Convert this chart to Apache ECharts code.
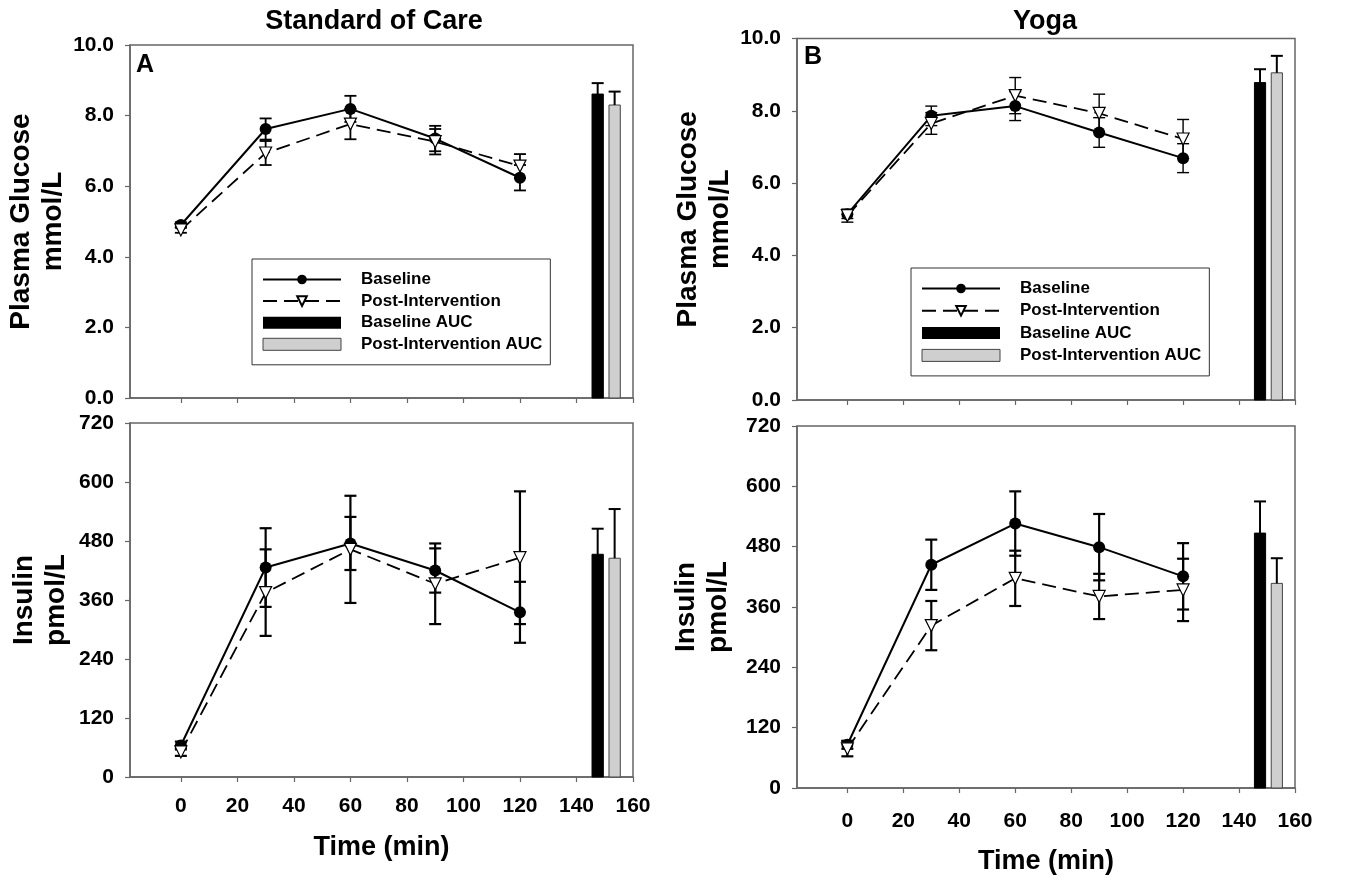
<!DOCTYPE html>
<html>
<head>
<meta charset="utf-8">
<title>Plasma glucose and insulin</title>
<script src="https://cdn.jsdelivr.net/npm/echarts@6/dist/echarts.min.js"></script>
<style>
  html, body { margin: 0; padding: 0; background: #fff; }
  #chart { width: 1353px; height: 882px; }
</style>
</head>
<body>
<div id="chart"></div>
<script>
// time points (min) and tick values
const times = [0, 30, 60, 90, 120]
const xTicks = [0, 20, 40, 60, 80, 100, 120, 140, 160]
const glucoseTicks = [0, 2, 4, 6, 8, 10]
const insulinTicks = [0, 120, 240, 360, 480, 600, 720]
const aucX = [147.5, 153.5]

// A: standard of care, glucose (mmol/L)
const socGlucoseBase = [4.90, 7.62, 8.19, 7.35, 6.24]
const socGlucoseBaseErr = [0.08, 0.30, 0.37, 0.36, 0.36]
const socGlucosePost = [4.76, 6.94, 7.76, 7.26, 6.57]
const socGlucosePostErr = [0.08, 0.34, 0.43, 0.36, 0.34]
const socGlucoseAuc = [8.61, 8.30]
const socGlucoseAucErr = [0.31, 0.38]

// B: yoga, glucose (mmol/L)
const yogaGlucoseBase = [5.14, 7.86, 8.13, 7.40, 6.69]
const yogaGlucoseBaseErr = [0.12, 0.27, 0.40, 0.41, 0.40]
const yogaGlucosePost = [5.10, 7.65, 8.42, 7.93, 7.22]
const yogaGlucosePostErr = [0.18, 0.30, 0.50, 0.53, 0.54]
const yogaGlucoseAuc = [8.78, 9.05]
const yogaGlucoseAucErr = [0.37, 0.47]

// standard of care, insulin (pmol/L)
const socInsulinBase = [64, 426, 475, 420, 335]
const socInsulinBaseErr = [8, 80, 54, 45, 62]
const socInsulinPost = [51, 375, 463, 393, 446]
const socInsulinPostErr = [8, 88, 109, 82, 135]
const socInsulinAuc = [453, 445]
const socInsulinAucErr = [52, 100]

// yoga, insulin (pmol/L)
const yogaInsulinBase = [86, 444, 526, 479, 421]
const yogaInsulinBaseErr = [8, 50, 64, 66, 66]
const yogaInsulinPost = [78, 323, 417, 381, 394]
const yogaInsulinPostErr = [15, 49, 55, 45, 62]
const yogaInsulinAuc = [507, 407]
const yogaInsulinAucErr = [63, 50]

const FONT = 'Liberation Sans'
const AXIS_COLOR = '#666'
const GREY = '#cfcfcf'

// layout of the four plot areas
const panels = [
  { grid: { left: 130, top: 45, width: 503, height: 353 }, ticks: glucoseTicks, glucose: true, bottom: false, nameGap: 58, errWidth: 1.8,
    base: socGlucoseBase, baseErr: socGlucoseBaseErr, post: socGlucosePost, postErr: socGlucosePostErr, auc: socGlucoseAuc, aucErr: socGlucoseAucErr },
  { grid: { left: 130, top: 423, width: 503, height: 354 }, ticks: insulinTicks, glucose: false, bottom: true, nameGap: 58, xNameGap: 57, labelMargin: 19, errWidth: 2.2,
    base: socInsulinBase, baseErr: socInsulinBaseErr, post: socInsulinPost, postErr: socInsulinPostErr, auc: socInsulinAuc, aucErr: socInsulinAucErr },
  { grid: { left: 797, top: 38.5, width: 498, height: 361.5 }, ticks: glucoseTicks, glucose: true, bottom: false, nameGap: 52, errWidth: 1.4,
    base: yogaGlucoseBase, baseErr: yogaGlucoseBaseErr, post: yogaGlucosePost, postErr: yogaGlucosePostErr, auc: yogaGlucoseAuc, aucErr: yogaGlucoseAucErr },
  { grid: { left: 797, top: 426, width: 498, height: 362 }, ticks: insulinTicks, glucose: false, bottom: true, nameGap: 63, xNameGap: 60, labelMargin: 23, errWidth: 2.2,
    base: yogaInsulinBase, baseErr: yogaInsulinBaseErr, post: yogaInsulinPost, postErr: yogaInsulinPostErr, auc: yogaInsulinAuc, aucErr: yogaInsulinAucErr }
]

function makeErrRenderer(lineWidth) {
  return function (params, api) {
    const x = api.value(0)
    const hi = api.coord([x, api.value(2)])
    const lo = api.coord([x, api.value(1)])
    const cap = 6
    const st = { stroke: '#000', lineWidth: lineWidth }
    const children = [
      { type: 'line', shape: { x1: hi[0], y1: hi[1], x2: lo[0], y2: lo[1] }, style: st },
      { type: 'line', shape: { x1: hi[0] - cap, y1: hi[1], x2: hi[0] + cap, y2: hi[1] }, style: st }
    ]
    if (api.value(3)) {
      children.push({ type: 'line', shape: { x1: lo[0] - cap, y1: lo[1], x2: lo[0] + cap, y2: lo[1] }, style: st })
    }
    return { type: 'group', children: children }
  }
}

function makeBarRenderer(fill, stroke) {
  return function (params, api) {
    const x = api.value(0)
    const top = api.coord([x, api.value(1)])
    const base = api.coord([x, 0])
    const w = api.size([4, 0])[0]
    return {
      type: 'rect',
      shape: { x: top[0] - w / 2, y: top[1], width: w, height: base[1] - top[1] },
      style: { fill: fill, stroke: stroke, lineWidth: 1 }
    }
  }
}

const grid = []
const xAxis = []
const yAxis = []
const series = []

panels.forEach((p, i) => {
  grid.push(Object.assign({ show: true, borderColor: AXIS_COLOR, borderWidth: 1.5, backgroundColor: 'transparent' }, p.grid))
  xAxis.push({
    type: 'value',
    gridIndex: i,
    min: -18,
    max: 160,
    name: p.bottom ? 'Time (min)' : '',
    nameLocation: 'middle',
    nameGap: p.xNameGap || 50,
    nameTextStyle: { fontFamily: FONT, fontSize: 27, fontWeight: 'bold', color: '#000' },
    axisLine: { show: true, onZero: false, lineStyle: { color: AXIS_COLOR, width: 1.5 } },
    axisTick: { show: true, inside: false, length: 5, customValues: xTicks, lineStyle: { color: AXIS_COLOR, width: 1.2 } },
    axisLabel: { show: p.bottom, customValues: xTicks, margin: p.labelMargin || 18, fontFamily: FONT, fontSize: 21, fontWeight: 'bold', color: '#000' },
    splitLine: { show: false }
  })
  yAxis.push({
    type: 'value',
    gridIndex: i,
    min: p.ticks[0],
    max: p.ticks[p.ticks.length - 1],
    name: p.glucose ? 'Plasma Glucose\nmmol/L' : 'Insulin\npmol/L',
    nameLocation: 'middle',
    nameRotate: 90,
    nameGap: p.nameGap,
    nameTextStyle: { fontFamily: FONT, fontSize: 28, fontWeight: 'bold', color: '#000', lineHeight: 32 },
    axisLine: { show: true, onZero: false, lineStyle: { color: AXIS_COLOR, width: 1.5 } },
    axisTick: { show: true, inside: false, length: 5, customValues: p.ticks, lineStyle: { color: AXIS_COLOR, width: 1.2 } },
    axisLabel: {
      customValues: p.ticks,
      margin: 16,
      fontFamily: FONT, fontSize: 21, fontWeight: 'bold', color: '#000',
      formatter: v => p.glucose ? v.toFixed(1) : String(v)
    },
    splitLine: { show: false }
  })

  const errData = (vals, errs) => vals.map((v, k) => [times[k], v - errs[k], v + errs[k], 1])
  const renderErr = makeErrRenderer(p.errWidth)

  series.push(
    { type: 'custom', xAxisIndex: i, yAxisIndex: i, z: 1, renderItem: renderErr, encode: { x: 0, y: [1, 2] },
      data: errData(p.base, p.baseErr) },
    { type: 'custom', xAxisIndex: i, yAxisIndex: i, z: 1, renderItem: renderErr, encode: { x: 0, y: [1, 2] },
      data: errData(p.post, p.postErr) },
    { name: 'Baseline AUC', type: 'custom', xAxisIndex: i, yAxisIndex: i, z: 1,
      renderItem: makeBarRenderer('#000', '#000'), encode: { x: 0, y: 1 },
      itemStyle: { color: '#000' }, data: [[aucX[0], p.auc[0]]] },
    { name: 'Post-Intervention AUC', type: 'custom', xAxisIndex: i, yAxisIndex: i, z: 1,
      renderItem: makeBarRenderer(GREY, '#444'), encode: { x: 0, y: 1 },
      itemStyle: { color: GREY, borderColor: '#444', borderWidth: 1 }, data: [[aucX[1], p.auc[1]]] },
    { type: 'custom', xAxisIndex: i, yAxisIndex: i, z: 1, renderItem: makeErrRenderer(2), encode: { x: 0, y: [1, 2] },
      data: p.auc.map((v, k) => [aucX[k], v, v + p.aucErr[k], 0]) },
    { name: 'Baseline', type: 'line', xAxisIndex: i, yAxisIndex: i, z: 3,
      data: p.base.map((v, k) => [times[k], v]),
      symbol: 'circle', symbolSize: 12,
      itemStyle: { color: '#000' },
      lineStyle: { color: '#000', width: 2 } },
    { name: 'Post-Intervention', type: 'line', xAxisIndex: i, yAxisIndex: i, z: 3,
      data: p.post.map((v, k) => [times[k], v]),
      symbol: 'triangle', symbolRotate: 180, symbolSize: 12,
      itemStyle: { color: '#fff', borderColor: '#000', borderWidth: 1.2 },
      lineStyle: { color: '#000', width: 1.8, type: [14, 7] } }
  )
})

const legendNames = [
  { name: 'Baseline' },
  { name: 'Post-Intervention' },
  { name: 'Baseline AUC', icon: 'rect', itemStyle: { color: '#000', borderWidth: 0 } },
  { name: 'Post-Intervention AUC', icon: 'rect', itemStyle: { color: GREY, borderColor: '#444', borderWidth: 1 } }
]

function makeLegend(left, top, gap) {
  return {
    orient: 'vertical',
    left: left,
    top: top,
    data: legendNames,
    selectedMode: false,
    itemWidth: 78,
    itemHeight: 12,
    itemGap: gap,
    padding: [12, 8, 12, 10],
    backgroundColor: '#fff',
    borderColor: '#333',
    borderWidth: 1,
    borderRadius: 0,
    textStyle: { fontFamily: FONT, fontSize: 17, fontWeight: 'bold', color: '#000', lineHeight: 14, padding: [0, 0, 0, 15] }
  }
}

const titleFont = { fontFamily: FONT, fontWeight: 'bold', color: '#000' }

const option = {
  animation: false,
  backgroundColor: '#fff',
  textStyle: { fontFamily: FONT },
  title: [
    { text: 'Standard of Care', left: 369, top: 3, textAlign: 'center', textStyle: Object.assign({ fontSize: 27 }, titleFont) },
    { text: 'Yoga', left: 1040, top: 3, textAlign: 'center', textStyle: Object.assign({ fontSize: 27 }, titleFont) },
    { text: 'A', left: 136, top: 53, padding: 0, textStyle: Object.assign({ fontSize: 25 }, titleFont) },
    { text: 'B', left: 804, top: 45, padding: 0, textStyle: Object.assign({ fontSize: 25 }, titleFont) }
  ],
  legend: [makeLegend(252, 259, 4.6), makeLegend(911, 268, 5.3)],
  grid: grid,
  xAxis: xAxis,
  yAxis: yAxis,
  series: series
}

const myChart = echarts.init(document.getElementById('chart'))
myChart.setOption(option)
</script>
</body>
</html>
